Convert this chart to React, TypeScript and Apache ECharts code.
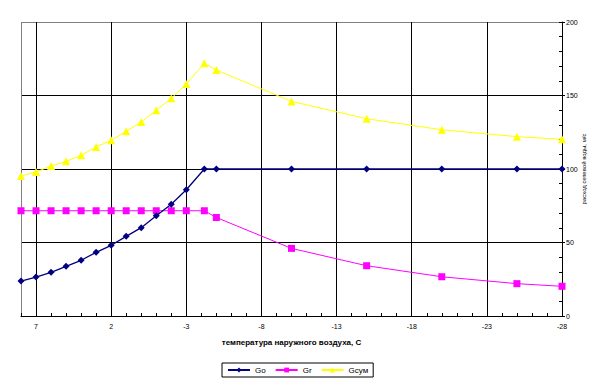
import React, { useEffect, useRef } from "react";
import * as echarts from "echarts";

// outdoor temperature, °C (x)
const temps = [8, 7, 6, 5, 4, 3, 2, 1, 0, -1, -2, -3, -4.2, -5, -10, -15, -20, -25, -28];
// series values
const goValues = [23.8, 26.5, 29.7, 33.8, 37.9, 43.3, 48.1, 54.2, 60.1, 68.2, 76, 85.9, 100, 100, 100, 100, 100, 100, 100];
const grValues = [71.6, 71.6, 71.6, 71.6, 71.6, 71.6, 71.6, 71.6, 71.6, 71.6, 71.6, 71.6, 71.6, 67, 46, 34.2, 26.7, 22, 20.2];
const gsumValues = [95.2, 98, 102, 105.2, 109.3, 115, 119.5, 125.6, 132, 139.9, 148.1, 157.8, 171.9, 167.3, 146, 134.2, 126.7, 122, 120.2];
const seriesNames = ["Go", "Gr", "Gсум"];
const xTitle = "температура наружного воздуха, С";
const yTitle = "расход сетевой воды, м/с";
const X_MIN = -28;
const X_MAX = 8;
const X_STEP = 5;
const Y_MAX = 200;
const Y_STEP = 50;

const FONT = "'Liberation Sans', Arial, sans-serif";

export default function App() {
  const ref = useRef<HTMLDivElement>(null);
  useEffect(() => {
    document.body.style.margin = "0";
    const chart = echarts.init(ref.current!, null, { renderer: "svg" });
    const toU = (t: number) => t - X_MIN;
    const mk = (vals: number[]) => temps.map((t, i) => [toU(t), vals[i]]);
    const uMax = X_MAX - X_MIN;
    chart.setOption({
      animation: false,
      backgroundColor: "#fff",
      textStyle: { fontFamily: FONT },
      grid: { left: 21, right: 48, top: 22, bottom: 73 },
      graphic: [
        {
          type: "text",
          x: 584,
          y: 169,
          rotation: Math.PI / 2,
          style: {
            text: yTitle,
            fontSize: 6,
            fill: "#000",
            fontFamily: FONT,
            align: "center",
            verticalAlign: "middle",
          },
        },
      ],
      legend: {
        left: 222,
        top: 363,
        orient: "horizontal",
        borderColor: "#000",
        borderWidth: 1,
        padding: [3, 5, 3, 5],
        itemGap: 9,
        itemWidth: 22,
        itemHeight: 6,
        textStyle: { fontSize: 8, color: "#000", fontFamily: FONT },
        data: seriesNames,
      },
      xAxis: [
        {
          type: "value",
          inverse: true,
          min: 0,
          max: uMax,
          interval: X_STEP,
          name: xTitle,
          nameLocation: "middle",
          nameGap: 22,
          nameTextStyle: { fontSize: 8, fontWeight: "bold", color: "#000", fontFamily: FONT },
          axisLine: { show: true, lineStyle: { color: "#000", width: 1 } },
          axisTick: { show: false },
          axisLabel: {
            fontSize: 7,
            color: "#000",
            margin: 7,
            formatter: (v: number) => (v >= uMax ? "" : String(v + X_MIN)),
          },
          splitLine: {
            show: true,
            lineStyle: {
              color: ["#000", "#000", "#000", "#000", "#000", "#000", "#000", "#000", "#808080"],
              width: 1,
            },
          },
        },
        {
          type: "value",
          inverse: true,
          min: 0,
          max: uMax,
          interval: 1,
          position: "bottom",
          axisLine: { show: false },
          axisTick: { show: true, inside: true, length: 3, lineStyle: { color: "#000" } },
          axisLabel: { show: false },
          splitLine: { show: false },
        },
      ],
      yAxis: [
        {
          type: "value",
          position: "right",
          min: 0,
          max: Y_MAX,
          interval: Y_STEP,
          axisLine: { show: true, lineStyle: { color: "#000", width: 1 } },
          axisTick: { show: true, length: 3, lineStyle: { color: "#000" } },
          axisLabel: { fontSize: 7, color: "#000", margin: 4 },
          splitLine: {
            show: true,
            lineStyle: { color: ["#000", "#000", "#000", "#000", "#808080"], width: 1 },
          },
        },
        {
          type: "value",
          position: "right",
          min: 0,
          max: Y_MAX,
          interval: 10,
          axisLine: { show: false },
          axisTick: { show: true, inside: true, length: 3, lineStyle: { color: "#000" } },
          axisLabel: { show: false },
          splitLine: { show: false },
        },
      ],
      series: [
        {
          name: seriesNames[0],
          type: "line",
          data: mk(goValues),
          symbol: "diamond",
          symbolSize: 7,
          itemStyle: { color: "#000080" },
          lineStyle: { color: "#000080", width: 1.3 },
          z: 3,
        },
        {
          name: seriesNames[1],
          type: "line",
          data: mk(grValues),
          symbol: "rect",
          symbolSize: 7,
          itemStyle: { color: "#FF00FF" },
          lineStyle: { color: "#FF00FF", width: 1 },
          z: 2,
        },
        {
          name: seriesNames[2],
          type: "line",
          data: mk(gsumValues),
          symbol: "triangle",
          symbolSize: 8,
          itemStyle: { color: "#FFFF00" },
          lineStyle: { color: "#FFFF00", width: 1 },
          z: 2,
        },
      ],
    });
    return () => chart.dispose();
  }, []);
  return <div ref={ref} style={{ width: 610, height: 389 }} />;
}
